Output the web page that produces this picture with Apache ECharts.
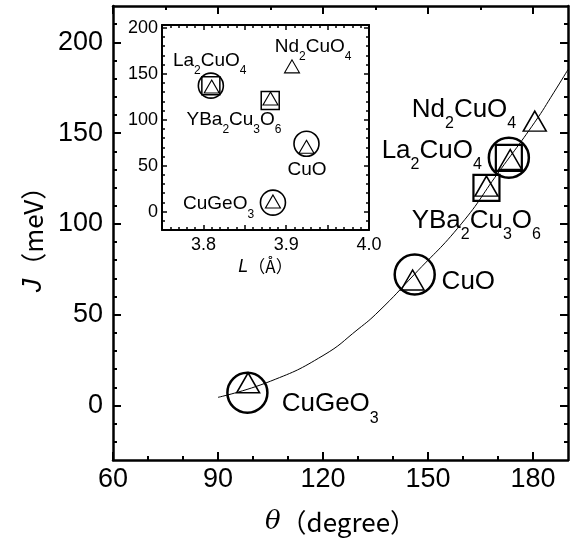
<!DOCTYPE html>
<html><head><meta charset="utf-8">
<script src="https://cdn.jsdelivr.net/npm/echarts@6/dist/echarts.min.js"></script>
<style>html,body{margin:0;padding:0;background:#fff}#c{width:570px;height:542px}</style>
</head><body><div id="c"></div>
<script>
// ---------------- data ----------------
const compounds = ['CuGeO3', 'CuO', 'YBa2Cu3O6', 'La2CuO4', 'Nd2CuO4'];
const compoundRich = ['CuGeO{s|3}', 'CuO', 'YBa{s|2}Cu{s|3}O{s|6}', 'La{s|2}CuO{s|4}', 'Nd{s|2}CuO{s|4}'];

// main panel: J vs theta
const mainTriTheta = [98.6, 145.6, 166.7, 173.5, 180.5];
const mainTriJ     = [12.5, 69.1, 120.8, 135.5, 156.6];
const mainCircTheta = [98.4, 146.2, 173.1];
const mainCircJ     = [7.0, 72.1, 136.4];
const mainSqTheta = [166.7, 173.1];
const mainSqJ     = [119.9, 136.4];
const curveTheta = [90, 105, 120, 130, 136, 146, 159.5, 170, 180.5, 186, 190];
const curveJ     = [4.5, 13.4, 27.5, 42, 52, 72, 100, 128, 156, 172.5, 185];

// inset: J vs L
const insetTriL = [3.884, 3.9245, 3.881, 3.810, 3.907];
const insetTriJ = [11, 70.5, 123, 136, 158];
const insetCircL = [3.884, 3.9245, 3.809];
const insetCircJ = [9.8, 73.8, 137];
const insetSqL = [3.8807, 3.809];
const insetSqJ = [121, 137];

// tick labels
const mainXLabels = [60, 90, 120, 150, 180];
const mainYLabels = [0, 50, 100, 150, 200];
const insetXLabels = [3.8, 3.9, 4.0];
const insetYLabels = [0, 50, 100, 150, 200];

// ---------------- layout ----------------
const mainLabelOffset = [[33.6, 21.4], [29, 2], [-74.8, 34.7], [-128.6, -8.7], [-123, -11.7]];
const insetLabelOffset = [[-89.9, 2.7], [-18.9, 23.2], [-84, 21.1], [-38.8, -25.7], [-17.2, -19.4]];
const FONT = 'Liberation Sans';

function steps(a, b, s) { const r = []; for (let i = 0; a + i * s <= b + 1e-9; i++) r.push(Math.round((a + i * s) * 1000) / 1000); return r; }
function without(arr, ex) { return arr.filter(v => !ex.some(e => Math.abs(e - v) < 1e-6)); }
function zip(a, b) { return a.map((v, i) => [v, b[i]]); }

// ticks: [majorBottom/Left, minorBottom/Left, majorTop/Right, minorTop/Right]
function makeAxes(dim, grid, min, max, ticks, st, lab, nm) {
  const sides = dim === 'x' ? ['bottom', 'top'] : ['left', 'right'];
  const out = [];
  sides.forEach((pos, i) => {
    const ax = {
      type: 'value', gridIndex: grid, position: pos, min: min, max: max,
      splitLine: { show: false },
      axisLine: { show: true, onZero: false, lineStyle: { color: '#000', width: st.lineW } },
      axisTick: { show: true, inside: true, length: st.majorLen, lineStyle: { color: '#000', width: st.tickW }, customValues: ticks[2 * i] },
      axisLabel: { show: false }
    };
    if (i === 0) {
      ax.axisLabel = Object.assign({ show: true, customValues: lab.values, color: '#000', fontFamily: FONT, fontSize: lab.size, margin: lab.margin }, lab.extra || {});
      if (nm) Object.assign(ax, nm);
    }
    out.push(ax);
    out.push({
      type: 'value', gridIndex: grid, position: pos, min: min, max: max,
      splitLine: { show: false },
      axisLine: { show: false, onZero: false },
      axisTick: { show: true, inside: true, length: st.minorLen, lineStyle: { color: '#000', width: st.tickW }, customValues: ticks[2 * i + 1] },
      axisLabel: { show: false }
    });
  });
  return out;
}

const mainSt = { lineW: 2.5, tickW: 2, majorLen: 8, minorLen: 4 };
const insetSt = { lineW: 2, tickW: 1.5, majorLen: 5, minorLen: 3 };

const mainXMinor = without(steps(60, 190, 10), mainXLabels.concat([190]));
const mainXTopMinor = without(steps(60, 180, 15), mainXLabels);
const mainYMinor = without(steps(-20, 210, 10), mainYLabels);
const inXMajor = [3.8, 3.85, 3.9, 3.95];
const inXMinor = without(steps(3.76, 3.99, 0.01), inXMajor);
const inYMinor = without(steps(-10, 200, 10), insetYLabels);

const xAxes = [].concat(
  makeAxes('x', 0, 60, 190, [mainXLabels, mainXMinor, mainXLabels, mainXTopMinor], mainSt,
    { values: mainXLabels, size: 27, margin: 6 },
    { name: '{t|θ}{p|（degree）}', nameLocation: 'middle', nameGap: 49,
      nameTextStyle: { rich: { t: { fontFamily: 'DejaVu Serif', fontStyle: 'italic', fontSize: 26, color: '#000' },
                               p: { fontFamily: 'Noto Sans CJK JP', fontSize: 26, color: '#000' } } } }),
  makeAxes('x', 1, 3.75, 4.0, [inXMajor, inXMinor, inXMajor, inXMinor], insetSt,
    { values: insetXLabels, size: 18, margin: 6, extra: { formatter: v => Number(v).toFixed(1) } },
    { name: '{l|L}{p|（Å）}', nameLocation: 'middle', nameGap: 28,
      nameTextStyle: { rich: { l: { fontFamily: FONT, fontStyle: 'italic', fontSize: 18, color: '#000' },
                               p: { fontFamily: 'Noto Sans CJK JP', fontSize: 17, color: '#000' } } } })
);
const yAxes = [].concat(
  makeAxes('y', 0, -30, 220, [mainYLabels, mainYMinor, mainYLabels, mainYMinor], mainSt,
    { values: mainYLabels, size: 27, margin: 10 },
    { name: '{j|J}{p|（meV）}', nameLocation: 'middle', nameGap: 66,
      nameTextStyle: { rich: { j: { fontFamily: FONT, fontStyle: 'italic', fontSize: 27, color: '#000' },
                               p: { fontFamily: 'Noto Sans CJK JP', fontSize: 26, color: '#000' } } } }),
  makeAxes('y', 1, -20, 203, [insetYLabels, inYMinor, insetYLabels, inYMinor], insetSt,
    { values: insetYLabels, size: 18, margin: 4 }, null)
);

function triSeries(xi, yi, xs, ys, size, bw, offsets, fs, subFs, subPad) {
  return {
    type: 'scatter', xAxisIndex: xi, yAxisIndex: yi, symbol: 'triangle', symbolSize: size,
    itemStyle: { color: 'rgba(0,0,0,0)', borderColor: '#000', borderWidth: bw, opacity: 1 }, z: 5,
    data: zip(xs, ys).map((v, i) => ({ value: v, label: { offset: offsets[i] } })),
    label: {
      show: true, position: 'inside', align: 'left', verticalAlign: 'middle',
      fontFamily: FONT, fontSize: fs, color: '#000',
      formatter: p => compoundRich[p.dataIndex],
      rich: { s: { fontFamily: FONT, fontSize: subFs, color: '#000', padding: [subPad, 0, 0, 0] } }
    }
  };
}
function shapeSeries(xi, yi, xs, ys, sym, size, bw) {
  return {
    type: 'scatter', xAxisIndex: xi, yAxisIndex: yi, symbol: sym, symbolSize: size,
    itemStyle: { color: 'rgba(0,0,0,0)', borderColor: '#000', borderWidth: bw, opacity: 1 }, z: 4,
    data: zip(xs, ys)
  };
}

const option = {
  animation: false,
  backgroundColor: '#fff',
  grid: [
    { left: 113, top: 6, width: 455, height: 454 },
    { left: 162, top: 25, width: 207, height: 205, backgroundColor: '#fff', show: true, borderWidth: 0 }
  ],
  xAxis: xAxes,
  yAxis: yAxes,
  series: [
    { type: 'line', xAxisIndex: 0, yAxisIndex: 0, data: zip(curveTheta, curveJ), smooth: true,
      showSymbol: false, symbol: 'none', lineStyle: { color: '#000', width: 1 }, z: 2 },
    shapeSeries(0, 0, mainCircTheta, mainCircJ, 'circle', 40, 2.5),
    shapeSeries(0, 0, mainSqTheta, mainSqJ, 'rect', 26, 2.2),
    triSeries(0, 0, mainTriTheta, mainTriJ, [23, 20], 1.5, mainLabelOffset, 26, 16, 28),
    shapeSeries(4, 4, insetCircL, insetCircJ, 'circle', 25, 1.6),
    shapeSeries(4, 4, insetSqL, insetSqJ, 'rect', 18, 1.5),
    triSeries(4, 4, insetTriL, insetTriJ, [15, 13], 1.1, insetLabelOffset, 19, 12, 20)
  ]
};
const chart = echarts.init(document.getElementById('c'), null, { renderer: 'canvas' });
chart.setOption(option);
</script></body></html>
